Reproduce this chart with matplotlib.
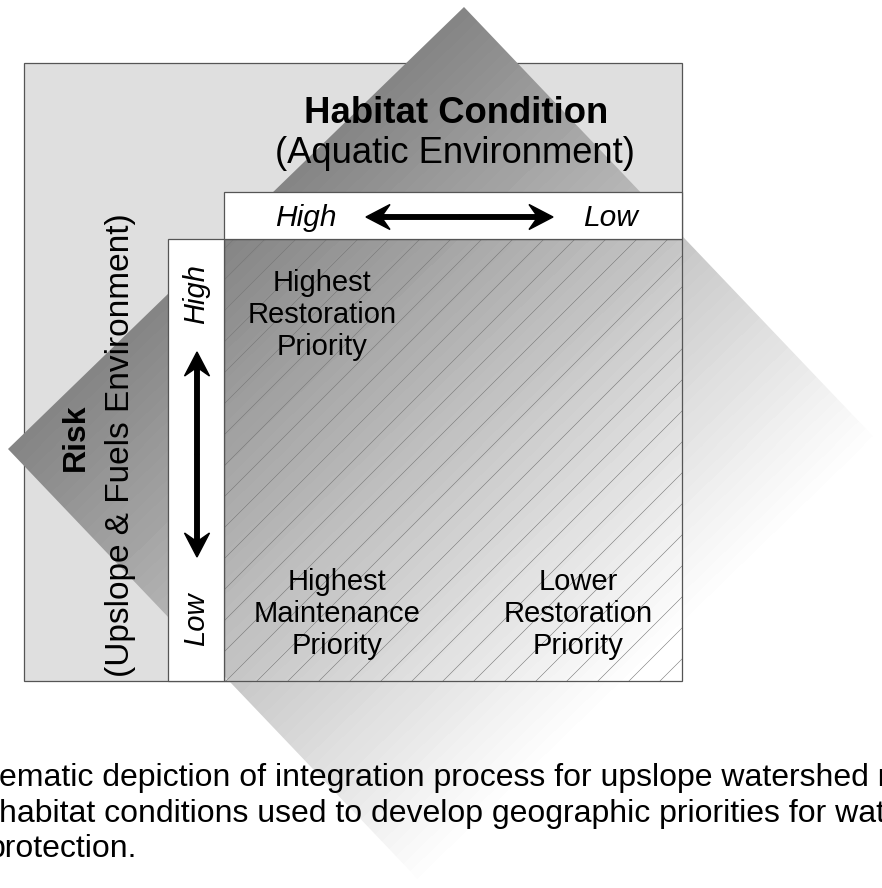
import numpy as np
import matplotlib.pyplot as plt
from matplotlib.patches import Rectangle, Polygon

plt.rcParams['font.family'] = ['Liberation Sans', 'DejaVu Sans']

# text content
title_bold = 'Habitat Condition'
title_sub = '(Aquatic Environment)'
side_bold = 'Risk'
side_sub = '(Upslope & Fuels Environment)'
axis_high = 'High'
axis_low = 'Low'
quadrant_labels = ['Highest\nRestoration\nPriority',
                   'Highest\nMaintenance\nPriority',
                   'Lower\nRestoration\nPriority']
caption_lines = ['ematic depiction of integration process for upslope watershed r',
                 'habitat conditions used to develop geographic priorities for wat',
                 'protection.']

# layout in pixel units (y grows downward)
W, H = 882, 888
quad_pos = [(322, 315), (337, 614), (578, 614)]
caption_pos = [(-1, 786), (-1, 822), (-12, 857)]
diamond = np.array([[464, 7], [8, 449], [453, 916], [909, 474]])

fig = plt.figure(figsize=(W / 100, H / 100), dpi=100)
ax = fig.add_axes([0, 0, 1, 1])
ax.set_xlim(0, W)
ax.set_ylim(H, 0)
ax.axis('off')

edge = '#555555'

# outer light gray panel
ax.add_patch(Rectangle((24, 63), 658, 618, facecolor='#dfdfdf', edgecolor=edge, lw=0.9, zorder=1))

# shaded diamond with a stepped linear gradient
T, L, B, R = diamond
e1 = L - T
v = R - T
Minv = np.linalg.inv(np.array([[e1[0], v[0]], [e1[1], v[1]]]))
xx, yy = np.meshgrid(np.arange(W) + 0.5, np.arange(H) + 0.5)
s = Minv[1, 0] * (xx - T[0]) + Minv[1, 1] * (yy - T[1])
shade = np.clip(s / 0.92, 0, 1)
shade = np.floor(shade * 58) / 58
img = 0.52 + (1 - 0.52) * shade
poly = Polygon(diamond, closed=True, facecolor='none', edgecolor='none', zorder=2)
ax.add_patch(poly)
im = ax.imshow(img, cmap='gray', vmin=0, vmax=1, extent=(0, W, H, 0),
               interpolation='nearest', zorder=2, aspect='auto')
im.set_clip_path(poly)

# hatched matrix area
hx0, hy0, hx1, hy1 = 224, 239, 682, 681
hatch_rect = Rectangle((hx0, hy0), hx1 - hx0, hy1 - hy0, facecolor='none', edgecolor=edge, lw=0.9, zorder=4)
ax.add_patch(hatch_rect)
for c in range(hx0 + hy0 - 31, hx1 + hy1 + 31, 31):
    c = c - (c % 31) + 8
    ln, = ax.plot([c - hy1 - 20, c - hy0 + 20], [hy1 + 20, hy0 - 20], color='#777777', lw=0.4, zorder=3)
    ln.set_clip_path(hatch_rect)

# white axis boxes
ax.add_patch(Rectangle((224, 192), 458, 47, facecolor='white', edgecolor=edge, lw=0.9, zorder=4))
ax.add_patch(Rectangle((168, 239), 56, 442, facecolor='white', edgecolor=edge, lw=0.9, zorder=4))

# titles
ax.text(456, 123, title_bold, fontsize=26.3, fontweight='bold', ha='center', va='baseline', zorder=5)
ax.text(455, 163, title_sub, fontsize=26.2, ha='center', va='baseline', zorder=5)
ax.text(76, 437, side_bold, fontsize=23, fontweight='bold', rotation=90, ha='center', va='center', zorder=5)
ax.text(120, 445, side_sub, fontsize=24, rotation=90, ha='center', va='center', zorder=5)

# axis labels
ax.text(306, 226, axis_high, fontsize=21.5, style='italic', ha='center', va='baseline', zorder=5)
ax.text(611, 226, axis_low, fontsize=21.5, style='italic', ha='center', va='baseline', zorder=5)
ax.text(196, 294, axis_high, fontsize=21, style='italic', rotation=90, ha='center', va='center', zorder=5)
ax.text(196, 619, axis_low, fontsize=21, style='italic', rotation=90, ha='center', va='center', zorder=5)

# double arrows
akw = dict(width=4.5, head_width=25, head_length=24, overhang=0.3,
           length_includes_head=True, color='black', zorder=5)
for d in (-1, 1):
    ax.arrow(459.5, 217, d * 93.5, 0, **akw)
    ax.arrow(197, 454.5, 0, d * 102.5, **akw)

# quadrant labels
for lab, (qx, qy) in zip(quadrant_labels, quad_pos):
    ax.text(qx, qy, lab, fontsize=21, ha='center', va='center', linespacing=1.2, zorder=5)

# caption (clipped at the figure edges, as in the source)
for line, (cx, cy) in zip(caption_lines, caption_pos):
    ax.text(cx, cy, line, fontsize=23, ha='left', va='baseline', zorder=5)

fig.savefig('out.png', dpi=100)
